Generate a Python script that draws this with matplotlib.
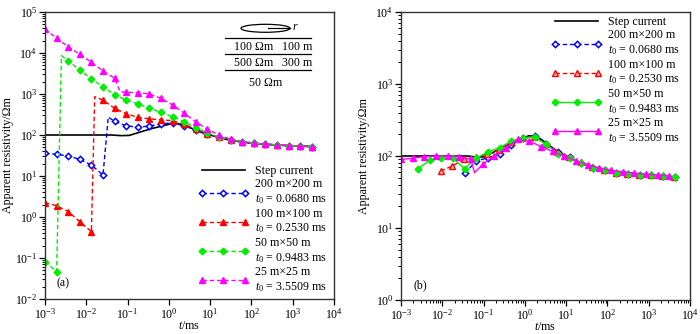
import matplotlib
matplotlib.use('Agg')
import matplotlib.pyplot as plt
from matplotlib.patches import Ellipse
from matplotlib.lines import Line2D
from matplotlib.ticker import FixedLocator, NullLocator, NullFormatter

plt.rcParams['font.family'] = ['Liberation Serif', 'DejaVu Serif']
plt.rcParams['mathtext.fontset'] = 'custom'
plt.rcParams['mathtext.rm'] = 'Liberation Serif'
plt.rcParams['mathtext.it'] = 'Liberation Serif:italic'
plt.rcParams['mathtext.bf'] = 'Liberation Serif:bold'

# ---------------- data ----------------
labels = ["Step current",
          "200 m\u00d7200 m\n$t_0$ = 0.0680 ms",
          "100 m\u00d7100 m\n$t_0$ = 0.2530 ms",
          "50 m\u00d750 m\n$t_0$ = 0.9483 ms",
          "25 m\u00d725 m\n$t_0$ = 3.5509 ms"]

x_decades = [1e-3, 1e-2, 1e-1, 1e0, 1e1, 1e2, 1e3, 1e4]
ya_decades = [1e-2, 1e-1, 1e0, 1e1, 1e2, 1e3, 1e4, 1e5]
yb_decades = [1e0, 1e1, 1e2, 1e3, 1e4]

# step-current response (both panels)
step_t = [0.001, 0.01, 0.04, 0.07, 0.11, 0.16, 0.25, 0.4, 0.63, 1.0, 1.26, 1.78,
          2.5, 4.0, 6.3, 10, 16, 25, 50, 100, 250, 630, 1600, 3200]
step_rho = [100, 100, 100, 96.6, 97.7, 110, 126, 145, 162, 182, 191, 186,
            170, 138, 115, 100, 88, 78.5, 69, 63, 59, 55.6, 53.7, 51.9]

# panel (a)
blue_a_t = [0.001, 0.00191, 0.00365, 0.00697, 0.0133, 0.0254, 0.0341, 0.0485, 0.0927,
            0.177, 0.338, 0.646, 1.23, 2.36, 4.5, 8.59, 16.4, 31.3, 59.8, 114, 218,
            417, 796, 1521, 2904]
blue_a_rho = [35.7, 33.8, 30.8, 25.5, 18.5, 10.6, 275, 214, 168, 155, 166, 188, 197,
              166, 132, 107, 88, 75.9, 68.4, 63.1, 59.6, 57.1, 55.2, 53.7, 51.9]
blue_a_jump = 6

red_a_t = [0.001, 0.00191, 0.00365, 0.00697, 0.0133, 0.016, 0.0254, 0.0485, 0.0927,
           0.177, 0.338, 0.646, 1.23, 2.36, 4.5, 8.59, 16.4, 31.3, 59.8, 114, 218,
           417, 796, 1521, 2904]
red_a_rho = [2.23, 1.89, 1.35, 0.77, 0.44, 861, 708, 447, 331, 269, 248, 234, 224,
             182, 138, 108, 88, 76, 68.4, 63.1, 59.6, 57.1, 55.2, 53.7, 51.9]
red_a_jump = 5

green_a_t = [0.001, 0.00191, 0.0025, 0.00365, 0.00697, 0.0133, 0.0254, 0.0485, 0.0927,
             0.177, 0.338, 0.646, 1.23, 2.36, 4.5, 8.59, 16.4, 31.3, 59.8, 114, 218,
             417, 796, 1521, 2904]
green_a_rho = [0.0813, 0.0463, 8590, 6457, 3846, 2323, 1510, 955, 714, 575, 448, 355,
               280, 209, 151, 112, 89, 76, 68.4, 63.1, 59.6, 57.1, 55.2, 53.7, 51.9]
green_a_jump = 2

mag_a_t = [0.001, 0.00191, 0.00365, 0.00697, 0.0133, 0.0254, 0.0485, 0.0655, 0.0927,
           0.177, 0.338, 0.646, 1.23, 2.36, 4.5, 8.59, 16.4, 31.3, 59.8, 114, 218,
           417, 796, 1521, 2904]
mag_a_rho = [38460, 22800, 14260, 9290, 5930, 3640, 2415, 1138, 1099, 1076, 1000, 785,
             540, 339, 209, 138, 100, 78.5, 68.7, 64.6, 60.3, 57, 54.8, 53.7, 51.9]
mag_a_jump = 7

# panel (b)
blue_b_t = [0.0347, 0.0665, 0.127, 0.244, 0.468, 0.896, 1.72, 3.29, 6.31, 12.1, 23.2,
            44.4, 85.1, 163, 313, 599, 1148, 2200, 4217]
blue_b_rho = [57.5, 85.1, 94.6, 107, 141, 178, 188, 148, 115, 95.5, 80.4, 69.2, 63.1,
              58.9, 56.9, 55, 53.7, 52.7, 51.6]

red_b_t = [0.00912, 0.0175, 0.0335, 0.0642, 0.123, 0.236, 0.452, 0.866, 1.66, 3.18,
           6.1, 11.7, 22.4, 42.9, 82.2, 158, 302, 579, 1109, 2126, 4074]
red_b_rho = [61.9, 72.6, 89.9, 96.8, 106, 123, 155, 180, 186, 148, 115, 95.5, 81.3, 70,
             63.1, 58.9, 56.9, 55, 53.7, 52.7, 51.6]

green_b_t = [0.00257, 0.00493, 0.00944, 0.0181, 0.0347, 0.0665, 0.127, 0.244, 0.468,
             0.896, 1.72, 3.29, 6.31, 12.1, 23.2, 44.4, 85.1, 163, 313, 599, 1148, 2200,
             4217]
green_b_rho = [66.7, 87.1, 92.9, 92.9, 66.7, 92.9, 114, 130, 161, 179, 184, 145, 107,
               94.6, 80.7, 68.9, 63.1, 58.6, 56.8, 54.5, 54, 52.7, 51.6]

mag_b_t = [0.001, 0.00192, 0.00367, 0.00704, 0.0135, 0.0259, 0.0495, 0.0603, 0.095,
           0.182, 0.349, 0.668, 1.28, 2.45, 4.7, 9.0, 17.3, 33.1, 63.5, 122, 233, 447,
           856, 1641, 3145]
mag_b_rho = [89.9, 92.9, 97.7, 100, 100, 97.7, 89.9, 58.6, 76.7, 100, 129, 170, 162, 135,
             116, 98.9, 86.1, 75.9, 68.4, 63.1, 60.3, 57.8, 56, 54.3, 52.7]
mag_b_jump = 7

# inset model text
layer1 = ["100 \u03a9m", "100 m"]
layer2 = ["500 \u03a9m", "300 m"]
layer3 = "50 \u03a9m"

# ---------------- styles ----------------
FS = 8.6
BLUE, RED, GREEN, MAG = '#0000ff', '#ff0000', '#00ee00', '#ff00ff'
W, H = 700, 334
DASH = (3.2, 2.0)


def marks(n, skip=None):
    return [i for i in range(n) if i != skip]


fig = plt.figure(figsize=(W / 100, H / 100), dpi=100)
axA = fig.add_axes([45 / W, 1 - 299 / H, 289 / W, 287 / H])
axB = fig.add_axes([401 / W, 1 - 300 / H, 289 / W, 288 / H])

ms = 3.9
lw = 1.0
# panel a
axA.plot(step_t, step_rho, color='black', lw=1.2, label=labels[0])
axA.plot(blue_a_t, blue_a_rho, '--', dashes=DASH, color=BLUE, lw=lw, marker='D',
         ms=ms - 0.7, mfc='white', mec=BLUE, mew=1.1,
         markevery=marks(len(blue_a_t), blue_a_jump), label=labels[1])
axA.plot(red_a_t, red_a_rho, '--', dashes=DASH, color=RED, lw=lw, marker='^', ms=ms,
         mfc=RED, mec=RED, markevery=marks(len(red_a_t), red_a_jump), label=labels[2])
axA.plot(green_a_t, green_a_rho, '--', dashes=DASH, color=GREEN, lw=lw, marker='D',
         ms=ms - 0.5, mfc=GREEN, mec=GREEN,
         markevery=marks(len(green_a_t), green_a_jump), label=labels[3])
axA.plot(mag_a_t, mag_a_rho, '--', dashes=DASH, color=MAG, lw=lw, marker='^', ms=ms,
         mfc=MAG, mec=MAG, markevery=marks(len(mag_a_t), mag_a_jump), label=labels[4])

# panel b
axB.plot(step_t, step_rho, color='black', lw=1.2, label=labels[0])
axB.plot(blue_b_t, blue_b_rho, '--', dashes=DASH, color=BLUE, lw=lw, marker='D',
         ms=ms - 0.7, mfc='white', mec=BLUE, mew=1.1, label=labels[1])
axB.plot(red_b_t, red_b_rho, '--', dashes=DASH, color=RED, lw=lw, marker='^', ms=ms,
         mfc='#ffb0b0', mec=RED, mew=1.0, label=labels[2])
axB.plot(green_b_t, green_b_rho, '-', color=GREEN, lw=lw, marker='D', ms=ms - 0.5,
         mfc=GREEN, mec=GREEN, label=labels[3])
axB.plot(mag_b_t, mag_b_rho, '-', color=MAG, lw=lw, marker='^', ms=ms,
         mfc=MAG, mec=MAG, markevery=marks(len(mag_b_t), mag_b_jump), label=labels[4])

for ax, yt in ((axA, ya_decades), (axB, yb_decades)):
    ax.set_xscale('log')
    ax.set_yscale('log')
    ax.set_xlim(x_decades[0], x_decades[-1])
    ax.set_ylim(yt[0], yt[-1])
    ax.xaxis.set_major_locator(FixedLocator(x_decades))
    ax.yaxis.set_major_locator(FixedLocator(yt))
    ax.yaxis.set_minor_locator(FixedLocator([d * s for d in yt[:-1] for s in range(2, 10)]))
    ax.yaxis.set_minor_formatter(NullFormatter())
    ax.tick_params(which='major', direction='out', length=4, width=0.9,
                   labelsize=FS, top=False, right=False, pad=1.5)
    ax.tick_params(which='minor', direction='out', length=2.3, width=0.7,
                   top=False, right=False)
    for sp in ax.spines.values():
        sp.set_color('#333333')
        sp.set_linewidth(1.0)
    ax.set_xlabel('$t$/ms', fontsize=FS)
    ax.set_ylabel('Apparent resistivity/\u03a9m', fontsize=FS)
    ax.xaxis.set_label_coords(0.5, -0.073)
    ax.yaxis.set_label_coords(-0.107, 0.5)

axA.xaxis.set_minor_locator(NullLocator())
axB.xaxis.set_minor_locator(FixedLocator([d * s for d in x_decades[:-1] for s in range(2, 10)]))
axB.xaxis.set_minor_formatter(NullFormatter())

axA.text(0.063, 0.055, '(a)', transform=axA.transAxes, fontsize=FS, ha='center', va='center')
axB.text(0.066, 0.052, '(b)', transform=axB.transAxes, fontsize=FS, ha='center', va='center')

legkw = dict(frameon=False, fontsize=FS, numpoints=3, handlelength=4.2,
             handletextpad=0.55, labelspacing=0.12, borderpad=0, borderaxespad=0,
             loc='upper left')
axA.legend(bbox_to_anchor=((198 - 45) / 289, (299 - 165) / 287), **legkw)
axB.legend(bbox_to_anchor=((551.7 - 401) / 289, (300 - 16) / 288), **legkw)


# inset model sketch in panel a (figure pixel coordinates)
def P(x, y):
    return (x / W, 1 - y / H)


tf = fig.transFigure
fig.patches.append(Ellipse(P(265.5, 28.3), 49 / W, 8 / H, transform=tf,
                           fill=False, ec='black', lw=0.9))
fig.lines.append(Line2D([268 / W, 290 / W], [1 - 28.3 / H] * 2, transform=tf,
                        color='black', lw=0.9))
fig.text(*P(293, 27.5), 'r', fontsize=FS, style='italic', ha='left', va='center')
for yy in (38.3, 54.3, 70):
    fig.lines.append(Line2D([225 / W, 311 / W], [1 - yy / H] * 2, transform=tf,
                            color='black', lw=0.9))
fig.text(*P(254, 46.5), layer1[0], fontsize=FS, ha='center', va='center')
fig.text(*P(297.5, 46.5), layer1[1], fontsize=FS, ha='center', va='center')
fig.text(*P(254, 63), layer2[0], fontsize=FS, ha='center', va='center')
fig.text(*P(297.5, 63), layer2[1], fontsize=FS, ha='center', va='center')
fig.text(*P(266, 82.5), layer3, fontsize=FS, ha='center', va='center')

fig.savefig('out.png', dpi=100)
